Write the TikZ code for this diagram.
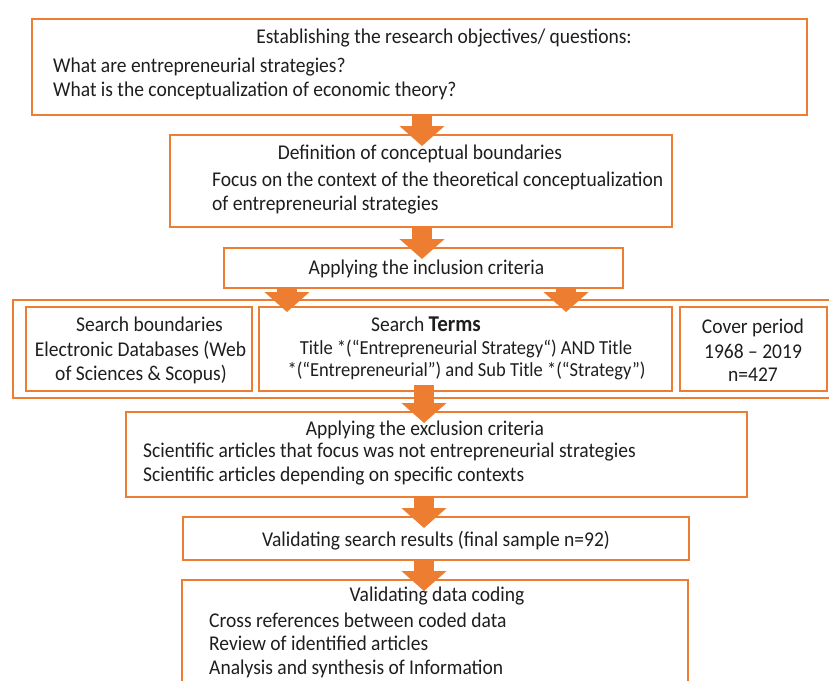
\documentclass[tikz,border=0pt]{standalone}
\usepackage{fontspec}
\setmainfont{Carlito}[FakeStretch=0.93]
\usetikzlibrary{arrows.meta,calc}
\definecolor{flow}{HTML}{ED7D31}
\definecolor{ink}{HTML}{1E1E1E}
\begin{document}
\begin{tikzpicture}[x=1pt,y=-1pt,
  box/.style={draw=flow,line width=2pt,inner sep=0pt},
  flowarrow/.style={draw=flow,line width=20pt,
    -{Triangle[width=44pt,length=20pt,fill=flow]}},
  txt/.style={inner sep=0pt,anchor=base,text=ink,font=\fontsize{21}{24}\selectfont},
  ltxt/.style={txt,anchor=base west},
  stxt/.style={txt,font=\fontsize{19.9}{22}\selectfont}
]
\useasboundingbox (0,0) rectangle (829,680);

% boxes
\node[box,minimum width=775pt,minimum height=96pt] (b1) at (419.5,67) {};
\node[box,minimum width=502pt,minimum height=92pt] (b2) at (421,181) {};
\node[box,minimum width=399pt,minimum height=40pt] (b3) at (423.5,268) {};
\node[box,minimum width=830pt,minimum height=98pt] (outer) at (428,349) {};
\node[box,minimum width=226pt,minimum height=84pt] (bl) at (139,349) {};
\node[box,minimum width=413pt,minimum height=84pt] (bm) at (465.5,349) {};
\node[box,minimum width=147pt,minimum height=84pt] (br) at (753.5,349) {};
\node[box,minimum width=621pt,minimum height=85pt] (b5) at (436.5,454.5) {};
\node[box,minimum width=506pt,minimum height=43pt] (b6) at (436,538.5) {};
\node[box,minimum width=506pt,minimum height=110pt] (b7) at (435,635) {};

% texts
\node[txt] (t1) at (444,43) {Establishing the research objectives/ questions:};
\node[ltxt] (t1a) at (53,72) {What are entrepreneurial strategies?};
\node[ltxt] (t1b) at (53,96) {What is the conceptualization of economic theory?};

\node[txt] (t2) at (420,159) {Definition of conceptual boundaries};
\node[ltxt] (t2a) at (212,186) {Focus on the context of the theoretical conceptualization};
\node[ltxt] (t2b) at (212,210) {of entrepreneurial strategies};

\node[txt] (t3) at (426.5,274) {Applying the inclusion criteria};

\node[txt] (tl) at (149.5,331) {Search boundaries};
\node[txt] (tla) at (140.5,356) {Electronic Databases (Web};
\node[txt] (tlb) at (141,380) {of Sciences \& Scopus)};

\node[txt] (tm) at (426,331) {Search {\fontsize{22.6}{24}\selectfont\bfseries Terms}};
\node[stxt] (tma) at (466,354) {Title *(“Entrepreneurial Strategy“) AND Title};
\node[stxt] (tmb) at (466.5,376) {*(“Entrepreneurial”) and Sub Title *(“Strategy”)};

\node[txt] (tr) at (753,333) {Cover period};
\node[txt] (tra) at (753,358) {1968 -- 2019};
\node[txt] (trb) at (753,381) {n=427};

\node[txt] (t5) at (425,435) {Applying the exclusion criteria};
\node[ltxt] (t5a) at (143,457) {Scientific articles that focus was not entrepreneurial strategies};
\node[ltxt] (t5b) at (143,481) {Scientific articles depending on specific contexts};

\node[txt] (t6) at (436,546) {Validating search results (final sample n=92)};

\node[txt] (t7) at (437,601) {Validating data coding};
\node[ltxt] (t7a) at (209,627) {Cross references between coded data};
\node[ltxt] (t7b) at (209,650) {Review of identified articles};
\node[ltxt] (t7c) at (209,674) {Analysis and synthesis of Information};

% arrow columns
\coordinate (c1) at (422,0);
\coordinate (c3a) at (287,0);
\coordinate (c3b) at (566,0);
\coordinate (c4) at (424,0);

% connectors
\draw[flowarrow] (b1.south -| c1) -- ([yshift=-12pt]b2.north -| c1);
\draw[flowarrow] (b2.south -| c1) -- ([yshift=-12pt]b3.north -| c1);
\draw[flowarrow] (b3.south -| c3a) -- ([yshift=-6pt]bm.north -| c3a);
\draw[flowarrow] (b3.south -| c3b) -- ([yshift=-6pt]bm.north -| c3b);
\draw[flowarrow] ([yshift=7pt]bm.south -| c4) -- ([yshift=-12pt]b5.north -| c4);
\draw[flowarrow] (b5.south -| c4) -- ([yshift=-12pt]b6.north -| c4);
\draw[flowarrow] (b6.south -| c4) -- ([yshift=-12pt]b7.north -| c4);
\end{tikzpicture}
\end{document}
